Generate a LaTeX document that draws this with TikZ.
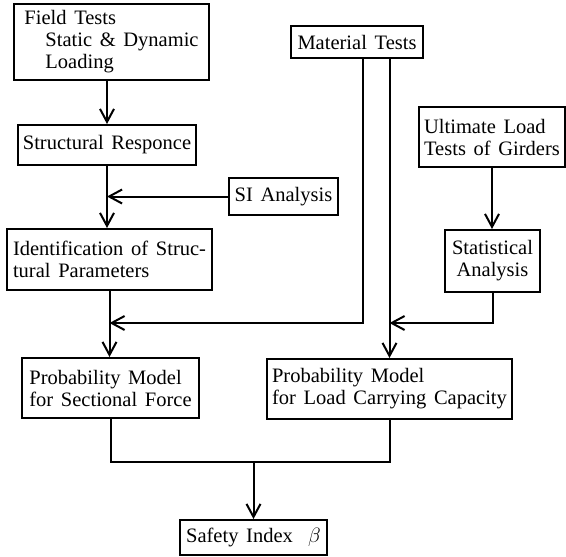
\documentclass[tikz,border=0pt]{standalone}
\usepackage{fontspec}
\setmainfont{Liberation Serif}[WordSpace=1.5]
\usetikzlibrary{arrows.meta}
\begin{document}
\begin{tikzpicture}[x=1pt,y=-1pt,
  box/.style={draw, line width=2pt, rectangle, inner sep=0pt, align=left,
    font=\fontsize{20.5}{22}\selectfont},
  cbox/.style={box, align=center},
  conn/.style={line width=2pt},
  arr/.style={conn, -{Straight Barb[length=13pt,width=14pt,line width=2pt]}}]
\useasboundingbox (0,0) rectangle (566,557);
% nodes
\node[box, minimum width=195pt, minimum height=76pt] (field) at (111.5,42)
  {Field Tests\\\hspace*{21pt}Static \& Dynamic\\\hspace*{21pt}Loading};
\node[cbox, minimum width=178pt, minimum height=40pt] (resp) at (107,145) {Structural Responce};
\node[cbox, minimum width=109pt, minimum height=37pt] (si) at (283.5,196.5) {SI Analysis};
\node[box, minimum width=205pt, minimum height=61pt] (ident) at (109.5,259.5)
  {Identification of Struc-\\tural Parameters};
\node[box, minimum width=177pt, minimum height=60pt] (psf) at (110.5,388)
  {Probability Model\\for Sectional Force};
\node[cbox, minimum width=132pt, minimum height=32pt] (mat) at (357,42) {Material Tests};
\node[box, minimum width=146pt, minimum height=60pt] (ult) at (492,137)
  {Ultimate Load\\Tests of Girders};
\node[cbox, minimum width=95pt, minimum height=62pt] (stat) at (492.5,261)
  {Statistical\\Analysis};
\node[box, minimum width=245pt, minimum height=60pt] (plc) at (389.5,389)
  {Probability Model\\for Load Carrying Capacity};
\node[cbox, minimum width=147pt, minimum height=35pt] (safety) at (253.5,537.5)
  {Safety Index \ $\beta$};
% junction levels
\coordinate (jy) at (0,323);
\coordinate (jb) at (0,462);
% connectors
\draw[arr] (field.south -| resp.north) -- (resp.north);
\draw[arr] (resp.south) -- (ident.north -| resp.south);
\draw[arr] (si.west) -- (si.west -| resp.south);
\draw[arr] (ident.south) -- (psf.north -| ident.south);
\draw[arr] ([xshift=6pt]mat.south) |- (ident.south |- jy);
\draw[arr] (mat.south -| plc.north) -- (plc.north);
\draw[arr] (ult.south) -- (stat.north -| ult.south);
\draw[arr] (stat.south) |- (plc.north |- jy);
\draw[conn] (psf.south) |- (jb -| plc.south) -- (plc.south);
\draw[arr] (safety.north |- jb) -- (safety.north);
\end{tikzpicture}
\end{document}
